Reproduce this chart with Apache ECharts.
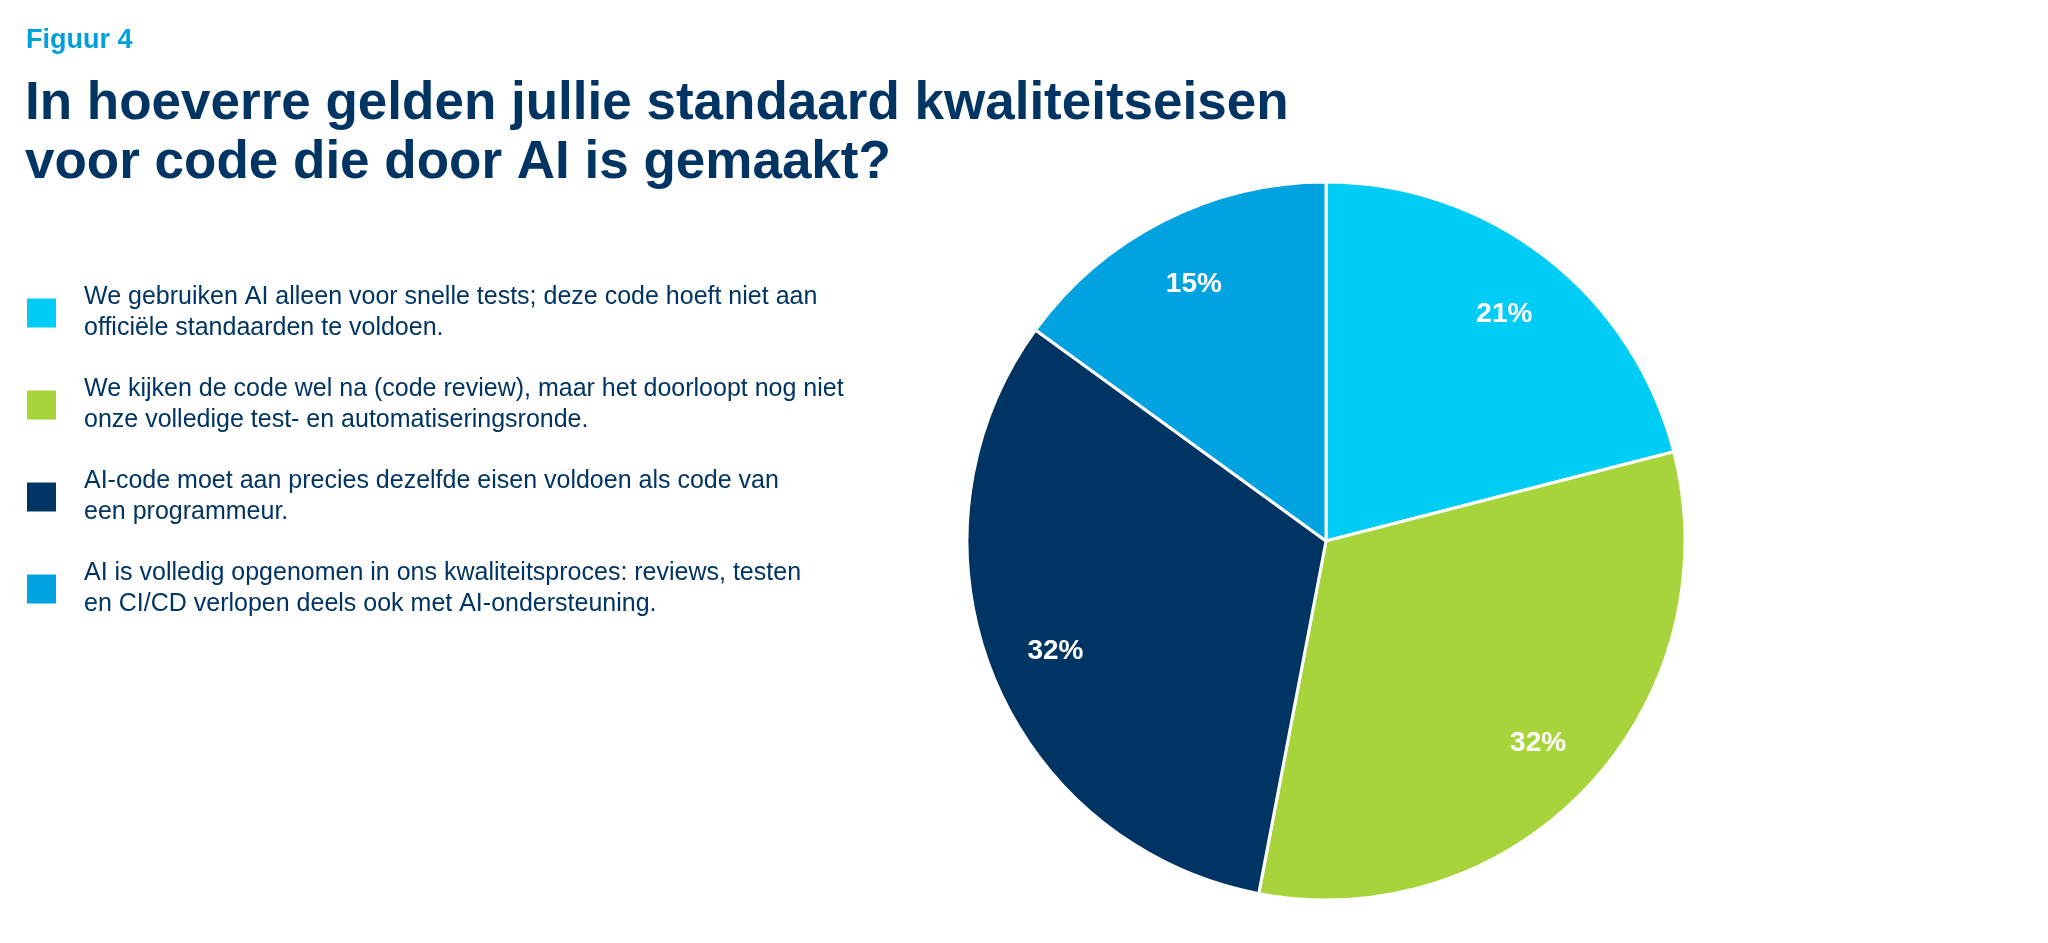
<!DOCTYPE html>
<html lang="nl">
<head>
    <meta charset="UTF-8">
    <title>Figuur 4</title>
    <script src="https://cdn.jsdelivr.net/npm/echarts@6/dist/echarts.min.js"></script>
    <style>
        html, body { margin: 0; padding: 0; background: #fff; }
    </style>
</head>
<body>
<div id="box1" style="width: 2048px;height: 943px"></div>
<script>
    // antwoorden (regelafbreking zoals in de figuur)
    var categories = [
        'We gebruiken AI alleen voor snelle tests; deze code hoeft niet aan\nofficiële standaarden te voldoen.',
        'We kijken de code wel na (code review), maar het doorloopt nog niet\nonze volledige test- en automatiseringsronde.',
        'AI-code moet aan precies dezelfde eisen voldoen als code van\neen programmeur.',
        'AI is volledig opgenomen in ons kwaliteitsproces: reviews, testen\nen CI/CD verlopen deels ook met AI-ondersteuning.'
    ];
    var values = [21, 32, 32, 15];
    var colors = ['#00CDF5', '#A7D33B', '#003462', '#00A3E0'];

    var navy = '#003462';
    var font = '"Liberation Sans", Arial, Helvetica, sans-serif';

    var mychar = echarts.init(document.getElementById("box1"));

    var pieData = categories.map(function (name, i) {
        return {name: name, value: values[i], itemStyle: {color: colors[i]}};
    });
    // zelfde waarden, alleen voor de plaats van de percentages
    var labelData = categories.map(function (name, i) {
        return {name: name, value: values[i]};
    });

    var option = {
        animation: false,
        backgroundColor: '#fff',
        textStyle: {fontFamily: font},
        title: [{
            text: 'Figuur 4',
            left: 26,
            top: 27,
            padding: 0,
            textStyle: {color: '#00A0DC', fontSize: 27, fontWeight: 'bold', fontFamily: font}
        }, {
            text: 'In hoeverre gelden jullie standaard kwaliteitseisen\nvoor code die door AI is gemaakt?',
            left: 25,
            top: 75,
            padding: 0,
            textStyle: {color: navy, fontSize: 53, fontWeight: 'bold', lineHeight: 59, fontFamily: font}
        }],
        legend: {
            orient: 'vertical',
            left: 25,
            top: 282,
            padding: 0,
            itemWidth: 31,
            itemHeight: 31,
            itemGap: 30,
            icon: 'rect',
            selectedMode: false,
            data: categories,
            textStyle: {
                color: navy,
                fontSize: 25,
                lineHeight: 31,
                fontFamily: font,
                padding: [0, 0, 0, 22]
            }
        },
        series: [{
            type: 'pie',
            center: [1326, 541],
            radius: [0, 359],
            startAngle: 90,
            silent: true,
            label: {show: false},
            labelLine: {show: false},
            itemStyle: {borderColor: '#fff', borderWidth: 3},
            data: pieData
        }, {
            type: 'pie',
            center: [1326, 544],
            radius: [0, 576],
            startAngle: 90,
            silent: true,
            itemStyle: {color: 'rgba(0,0,0,0)'},
            label: {
                show: true,
                position: 'inside',
                formatter: '{c}%',
                color: '#fff',
                fontSize: 28,
                fontWeight: 'bold',
                fontFamily: font
            },
            labelLine: {show: false},
            data: labelData
        }]
    };
    mychar.setOption(option);
</script>
</body>
</html>
